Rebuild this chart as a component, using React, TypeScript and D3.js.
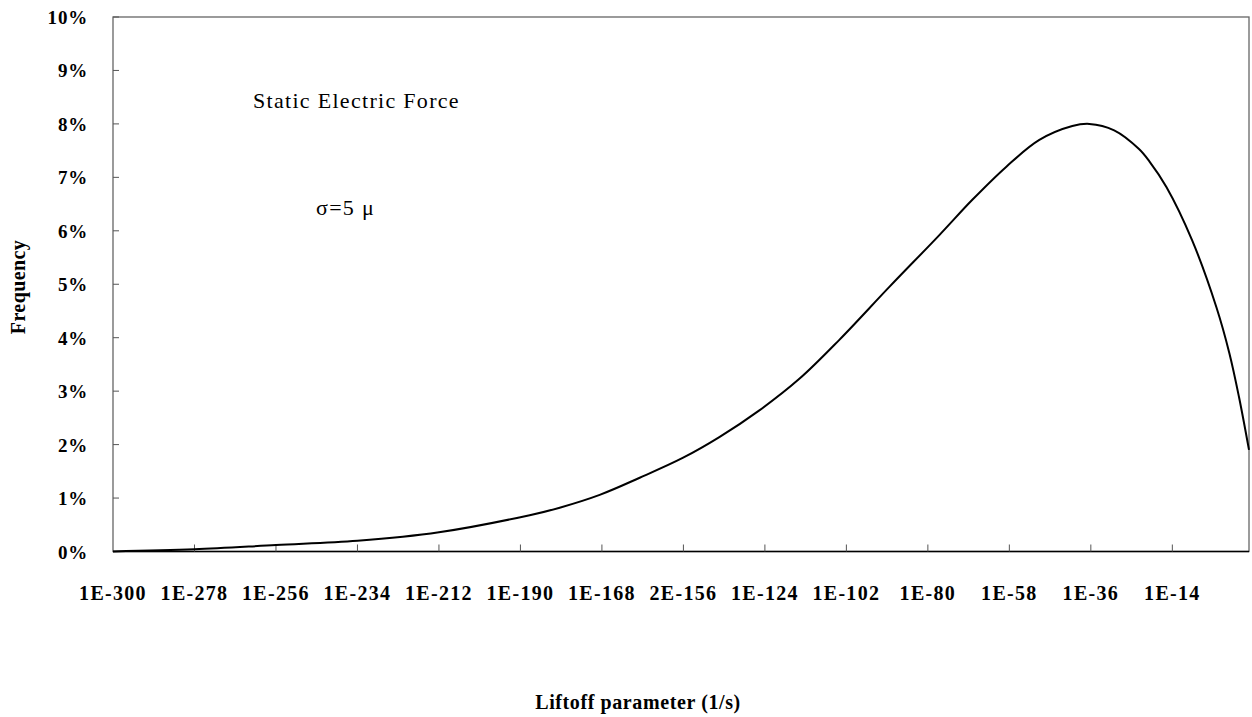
import React from "react";
import * as d3 from "d3";

// Liftoff parameter exponent (10^e, 1/s) and frequency (fraction)
const exponents = [-300, -278, -256, -234, -212, -187.5, -179.4, -168.6, -157.8, -146.2, -136.3, -125.5, -114.7, -103.9, -90.4, -76.9, -68.0, -58.8, -49.9, -41.0, -36.4, -29.7, -23.0, -20.2, -15.6, -8.7, -2.1, 1.4, 4.0, 6.7];
const frequency = [0.0000, 0.0004, 0.0012, 0.0020, 0.0036, 0.0068, 0.0082, 0.0106, 0.0138, 0.0175, 0.0214, 0.0264, 0.0323, 0.0396, 0.0495, 0.0592, 0.0658, 0.0720, 0.0770, 0.0796, 0.0800, 0.0788, 0.0753, 0.0730, 0.0682, 0.0583, 0.0457, 0.0371, 0.0289, 0.0190];

const xTickValues = [-300, -278, -256, -234, -212, -190, -168, -146, -124, -102, -80, -58, -36, -14];
const xTickLabels = ["1E-300", "1E-278", "1E-256", "1E-234", "1E-212", "1E-190", "1E-168", "2E-156", "1E-124", "1E-102", "1E-80", "1E-58", "1E-36", "1E-14"];
const yTickValues = [0, 0.01, 0.02, 0.03, 0.04, 0.05, 0.06, 0.07, 0.08, 0.09, 0.1];

const W = 1252;
const H = 717;
const left = 113, right = 1249, top = 17, bottom = 551.5;
const font = "'Liberation Serif', 'DejaVu Serif', serif";

export default function App() {
  const x = d3.scaleLinear().domain([-300, 6.7]).range([left, right]);
  const y = d3.scaleLinear().domain([0, 0.1]).range([bottom, top]);
  const pts: [number, number][] = exponents.map((e, i) => [x(e), y(frequency[i])]);
  const line = d3.line().curve(d3.curveCatmullRom.alpha(0.5))(pts) || "";
  const pct = d3.format(".0%");

  return (
    <svg width={W} height={H} style={{ position: "absolute", left: 0, top: 0, background: "#fff" }}>
      {/* frame */}
      <rect x={left} y={top} width={right - left} height={bottom - top} fill="none" stroke="#666" strokeWidth={1.3} />
      <line x1={left} x2={right} y1={bottom} y2={bottom} stroke="#000" strokeWidth={1.5} />

      {/* y ticks */}
      {yTickValues.map((v) => (
        <g key={"y" + v}>
          <line x1={left} x2={left + 6} y1={y(v)} y2={y(v)} stroke="#555" strokeWidth={1} />
          <text x={88} y={y(v) + 7} textAnchor="end" fontFamily={font} fontWeight="bold" fontSize={19} letterSpacing={0.8} fill="#000">
            {pct(v)}
          </text>
        </g>
      ))}

      {/* x ticks */}
      {xTickValues.map((v, i) => (
        <g key={"x" + v}>
          {i > 0 && <line x1={x(v)} x2={x(v)} y1={bottom} y2={bottom - 7} stroke="#555" strokeWidth={1} />}
          <text x={x(v)} y={600} textAnchor="middle" fontFamily={font} fontWeight="bold" fontSize={20} letterSpacing={1.3} fill="#000">
            {xTickLabels[i]}
          </text>
        </g>
      ))}

      {/* curve */}
      <path d={line} fill="none" stroke="#000" strokeWidth={2} />

      {/* annotations */}
      <text x={253} y={108} fontFamily={font} fontSize={22} letterSpacing={1.3} fill="#000">Static Electric Force</text>
      <text x={316} y={215} fontFamily={font} fontSize={22} letterSpacing={1.3} fill="#000">σ=5 μ</text>

      {/* axis titles */}
      <text transform="translate(25,287) rotate(-90)" textAnchor="middle" fontFamily={font} fontWeight="bold" fontSize={20} letterSpacing={0.4} fill="#000">
        Frequency
      </text>
      <text x={638} y={709} textAnchor="middle" fontFamily={font} fontWeight="bold" fontSize={20} letterSpacing={0.6} fill="#000">
        Liftoff parameter (1/s)
      </text>
    </svg>
  );
}
